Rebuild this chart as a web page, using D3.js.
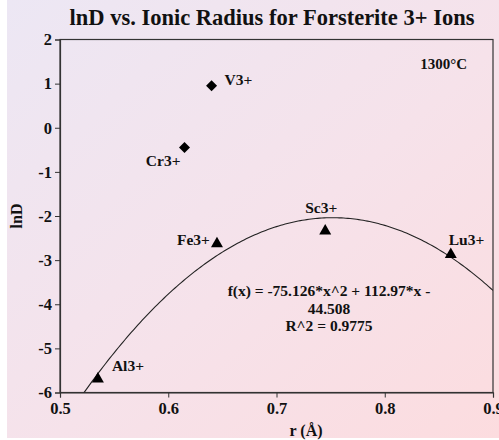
<!DOCTYPE html>
<html>
<head>
<meta charset="utf-8">
<script src="https://cdn.jsdelivr.net/npm/d3@7"></script>
<style>
  html, body { margin: 0; padding: 0; background: #ffffff; }
  svg { display: block; }
  text { font-family: "Liberation Serif", "Times New Roman", serif; font-weight: bold; fill: #111; }
</style>
</head>
<body>
<script>
// Ions, their ionic radii (Å) and partition coefficients (ln D)
const ions      = ["Al3+", "Cr3+", "V3+", "Fe3+", "Sc3+", "Lu3+"];
const radius    = [0.535, 0.615, 0.640, 0.645, 0.745, 0.861];
const lnD       = [-5.68, -0.45, 0.95, -2.62, -2.33, -2.86];
const markers   = ["triangle", "diamond", "diamond", "triangle", "triangle", "triangle"];

// Quadratic fit through the 3+ ions on the lattice-strain curve
const fitCoef   = [-75.126, 112.97, -44.508];   // a, b, c
const fitLines  = ["f(x) = -75.126*x^2 + 112.97*x -", "44.508", "R^2 = 0.9775"];

const xTicks    = [0.5, 0.6, 0.7, 0.8, 0.9];
const yTicks    = [2, 1, 0, -1, -2, -3, -4, -5, -6];

const W = 499, H = 440;
const margin = { left: 60, right: 6, top: 39.5, bottom: 47.5 };

const svg = d3.select("body").append("svg").attr("width", W).attr("height", H);

// soft lavender-to-pink backdrop
const defs = svg.append("defs");
const grad = defs.append("linearGradient").attr("id", "bg")
  .attr("x1", "0%").attr("y1", "0%").attr("x2", "100%").attr("y2", "100%");
grad.append("stop").attr("offset", "0%").attr("stop-color", "#ece7f4");
grad.append("stop").attr("offset", "55%").attr("stop-color", "#f6e2ea");
grad.append("stop").attr("offset", "100%").attr("stop-color", "#fcdcdf");
svg.append("rect").attr("x", 7).attr("y", 0).attr("width", W - 7).attr("height", H - 2)
  .attr("fill", "url(#bg)");

const x = d3.scaleLinear().domain([0.5, 0.9]).range([margin.left, W - margin.right]);
const y = d3.scaleLinear().domain([-6, 2]).range([H - margin.bottom, margin.top]);

// title
svg.append("text").attr("x", 272).attr("y", 25).attr("text-anchor", "middle")
  .style("font-size", "22.5px").text("lnD vs. Ionic Radius for Forsterite 3+ Ions");

// plot frame
svg.append("rect")
  .attr("x", x(0.5)).attr("y", y(2))
  .attr("width", x(0.9) - x(0.5)).attr("height", y(-6) - y(2))
  .attr("fill", "none").attr("stroke", "#333").attr("stroke-width", 1.2);

// axes
const xAxis = d3.axisBottom(x).tickValues(xTicks).tickSize(5).tickPadding(5)
  .tickFormat(d3.format(".1f"));
const gx = svg.append("g").attr("transform", `translate(0,${y(-6)})`).call(xAxis);
gx.select(".domain").attr("stroke", "#333").attr("stroke-width", 1.2);
gx.selectAll(".tick line").attr("stroke", "#333");
gx.selectAll(".tick text").style("font-size", "16.5px").attr("fill", "#111")
  .style("font-family", "'Liberation Serif', serif").style("font-weight", "bold");

const yAxis = d3.axisLeft(y).tickValues(yTicks).tickSize(5).tickPadding(3)
  .tickFormat(d3.format("d"));
const gy = svg.append("g").attr("transform", `translate(${x(0.5)},0)`).call(yAxis);
gy.select(".domain").attr("stroke", "#333").attr("stroke-width", 1.2);
gy.selectAll(".tick line").attr("stroke", "#333");
gy.selectAll(".tick text").style("font-size", "16.5px").attr("fill", "#111")
  .style("font-family", "'Liberation Serif', serif").style("font-weight", "bold")
  .text(d => d < 0 ? "-" + Math.abs(d) : d);

// axis titles
svg.append("text").attr("x", 306).attr("y", 436).attr("text-anchor", "middle")
  .style("font-size", "16px").text("r (Å)");
svg.append("text").attr("transform", "translate(22,216) rotate(-90)")
  .attr("text-anchor", "middle").style("font-size", "16px").text("lnD");

// fitted curve, clipped to the plot area
defs.append("clipPath").attr("id", "plotClip").append("rect")
  .attr("x", x(0.5)).attr("y", y(2))
  .attr("width", x(0.9) - x(0.5)).attr("height", y(-6) - y(2));
const fit = r => fitCoef[0] * r * r + fitCoef[1] * r + fitCoef[2];
const curveX = d3.range(0.5, 0.9001, 0.002);
svg.append("path")
  .datum(curveX)
  .attr("clip-path", "url(#plotClip)")
  .attr("fill", "none").attr("stroke", "#222").attr("stroke-width", 1.1)
  .attr("d", d3.line().x(d => x(d)).y(d => y(fit(d))));

// data markers: upward triangles and square diamonds
const triPath = "M0,-6.5L6,4L-6,4Z";
const diaPath = "M0,-5.5L5.5,0L0,5.5L-5.5,0Z";
svg.append("g").selectAll("path").data(ions).join("path")
  .attr("transform", (d, i) => `translate(${x(radius[i])},${y(lnD[i])})`)
  .attr("d", (d, i) => markers[i] === "triangle" ? triPath : diaPath)
  .attr("fill", "#000");

// point labels, offset from each marker
const labelOffsets = {
  "Al3+": [14, -7, "start"],
  "Cr3+": [-4, 18, "end"],
  "V3+":  [13, -1, "start"],
  "Fe3+": [-7, 2, "end"],
  "Sc3+": [-4, -18, "middle"],
  "Lu3+": [-2, -9, "start"]
};
svg.append("g").selectAll("text").data(ions).join("text")
  .attr("x", (d, i) => x(radius[i]) + labelOffsets[d][0])
  .attr("y", (d, i) => y(lnD[i]) + labelOffsets[d][1])
  .attr("text-anchor", d => labelOffsets[d][2])
  .style("font-size", "15.5px")
  .text(d => d);

// temperature note
svg.append("text").attr("x", 467).attr("y", 69).attr("text-anchor", "end")
  .style("font-size", "15px").text("1300°C");

// fit equation block
svg.append("g").selectAll("text").data(fitLines).join("text")
  .attr("x", 329).attr("y", (d, i) => 296 + i * 17.5)
  .attr("text-anchor", "middle").style("font-size", "15.5px")
  .text(d => d);
</script>
</body>
</html>
